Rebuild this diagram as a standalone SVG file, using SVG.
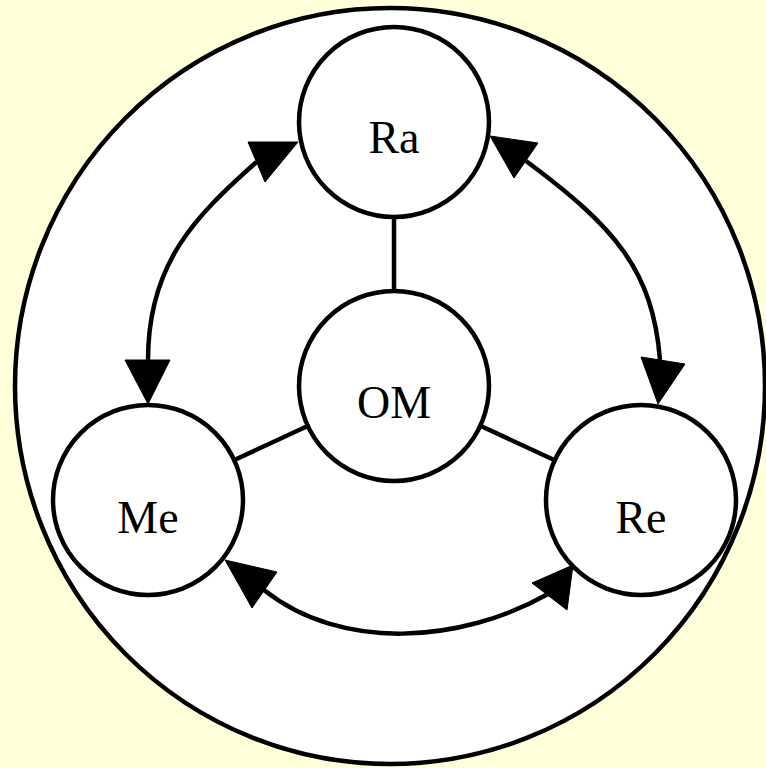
<svg xmlns="http://www.w3.org/2000/svg" width="766" height="768" viewBox="0 0 766 768">
<style>
.node circle{fill:#ffffff;stroke:#000;stroke-width:4.5}
.node text{font-family:"Liberation Serif","Times New Roman",serif;font-size:46px;fill:#000;text-anchor:middle}
.edge{fill:none;stroke:#000;stroke-width:4.5}
.ah{fill:#000;stroke:#000;stroke-width:1;stroke-linejoin:miter}
</style>
<rect x="0" y="0" width="766" height="768" fill="#ffffd9"/>
<g id="boundary">
<ellipse cx="390" cy="386" rx="375" ry="378" fill="#ffffff" stroke="#000" stroke-width="4.5"/>
</g>
<g id="connectors">
<path class="edge" d="M394,217 L394,291"/>
<path class="edge" d="M307.7,426 L234.3,460"/>
<path class="edge" d="M480.3,425.8 L554.7,460.2"/>
<path class="edge" d="M256.5,162 C197,215 148,262 148,360"/>
<path class="edge" d="M526,161 C615,227 652.8,270 660,360"/>
<path class="edge" d="M264,590 C342,652 461,643 548,594"/>
<polygon class="ah" points="298,142 248,142 265,182"/>
<polygon class="ah" points="490,136 538,143 514,178"/>
<polygon class="ah" points="148,404 125,360 170,360"/>
<polygon class="ah" points="658,404 641,357 685,364"/>
<polygon class="ah" points="225,560 277,572 252,608"/>
<polygon class="ah" points="573,565 532,583 567,610"/>
</g>
<g id="node-Ra" class="node">
<circle cx="394" cy="122" r="95"/>
<text x="394" y="153">Ra</text>
</g>
<g id="node-OM" class="node">
<circle cx="394" cy="386" r="95"/>
<text x="394" y="418">OM</text>
</g>
<g id="node-Me" class="node">
<circle cx="148" cy="500" r="95"/>
<text x="148" y="533">Me</text>
</g>
<g id="node-Re" class="node">
<circle cx="641" cy="500" r="95"/>
<text x="641" y="533">Re</text>
</g>
</svg>
